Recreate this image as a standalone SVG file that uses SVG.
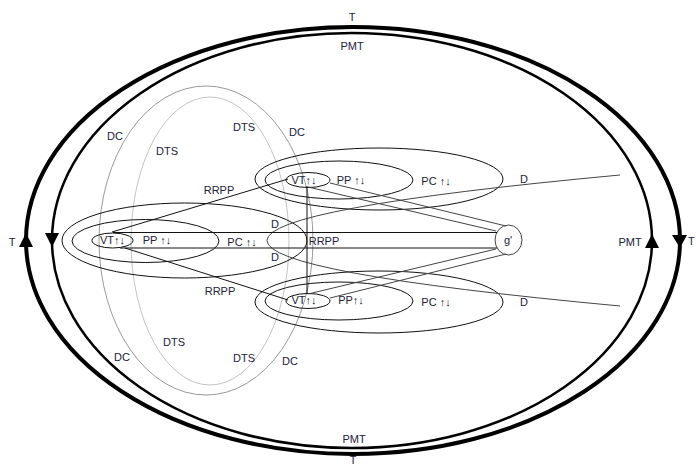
<svg xmlns="http://www.w3.org/2000/svg" width="696" height="467" viewBox="0 0 696 467">
<style>
text{font-family:"Liberation Sans",Arial,sans-serif;font-size:11px;fill:#222238;text-anchor:middle;dominant-baseline:central}
.e{fill:none;stroke:#111;stroke-width:1}
.g{fill:none;stroke:#444;stroke-width:1}
.dc{fill:none;stroke:#999;stroke-width:1}
.dts{fill:none;stroke:#c4c4c4;stroke-width:1}
.tri{fill:#000}
</style>
<rect width="696" height="467" fill="#fff"/>
<g id="T">
<ellipse cx="353" cy="240.5" rx="327" ry="213.5" fill="none" stroke="#000" stroke-width="4"/>
<polygon class="tri" points="26,233 19,247 33,247"/>
<polygon class="tri" points="672,235 687,235 680,248"/>
<text x="352" y="17">T</text><text x="353" y="460">T</text>
<text x="12" y="242">T</text><text x="688" y="241" style="text-anchor:start">T</text>
</g>
<g id="PMT">
<ellipse cx="352" cy="240.5" rx="300" ry="207.5" fill="none" stroke="#000" stroke-width="2.5"/>
<polygon class="tri" points="45,233 59,233 52,247"/>
<polygon class="tri" points="652,234 645,248 659,248"/>
<text x="352" y="46">PMT</text><text x="354" y="439">PMT</text><text x="630" y="242">PMT</text>
</g>
<g id="DC">
<ellipse class="dc" cx="206" cy="240.5" rx="107" ry="154.5"/>
<text x="115" y="136">DC</text><text x="297" y="132">DC</text><text x="122" y="357">DC</text><text x="290" y="361">DC</text>
</g>
<g id="DTS">
<ellipse class="dts" cx="210" cy="241" rx="79" ry="144"/>
<text x="167" y="151">DTS</text><text x="244" y="127">DTS</text><text x="174" y="342">DTS</text><text x="244" y="358">DTS</text>
</g>
<g id="left">
<ellipse class="e" cx="184.5" cy="240.5" rx="122.5" ry="37.5"/>
<ellipse class="e" cx="145.5" cy="241" rx="73.5" ry="21.5"/>
<ellipse class="e" cx="112.5" cy="240.5" rx="20.5" ry="7.5"/>
<text x="112.5" y="240">VT↑↓</text><text x="157" y="240">PP ↑↓</text><text x="242" y="242">PC ↑↓</text>
</g>
<g id="top">
<ellipse class="e" cx="379" cy="179" rx="124" ry="31"/>
<ellipse class="e" cx="339" cy="180" rx="74" ry="19"/>
<ellipse class="e" cx="308" cy="180" rx="22" ry="7.5"/>
<text x="304" y="180">VT↑↓</text><text x="351" y="180">PP ↑↓</text><text x="436" y="181">PC ↑↓</text>
</g>
<g id="bottom">
<ellipse class="e" cx="379" cy="302" rx="124" ry="31"/>
<ellipse class="e" cx="339" cy="301" rx="74" ry="19"/>
<ellipse class="e" cx="308" cy="301" rx="22" ry="7.5"/>
<text x="304" y="300">VT↑↓</text><text x="351" y="300">PP↑↓</text><text x="436" y="302">PC ↑↓</text>
</g>
<g id="gprime">
<ellipse class="g" cx="508.5" cy="240" rx="13.5" ry="15"/>
<text x="508" y="240">g'</text>
</g>
<g id="connectors">
<path class="g" d="M620,175 Q-86,240.5 620,306"/>
<line class="e" x1="112" y1="232" x2="288" y2="179"/>
<line class="e" x1="125" y1="248" x2="288" y2="300"/>
<line class="e" x1="113" y1="232.5" x2="497" y2="232.5"/>
<line class="e" x1="120" y1="248" x2="497" y2="248"/>
<line class="e" x1="307" y1="186" x2="307" y2="294"/>
<line class="g" x1="308" y1="187" x2="496" y2="231"/>
<line class="g" x1="330" y1="183" x2="506" y2="226"/>
<line class="g" x1="308" y1="294" x2="496" y2="249"/>
<line class="g" x1="330" y1="298" x2="506" y2="254"/>
<text x="219" y="190">RRPP</text><text x="220" y="291">RRPP</text><text x="324" y="241">RRPP</text>
<text x="275" y="224">D</text><text x="275" y="257">D</text><text x="524" y="179">D</text><text x="524" y="302">D</text>
</g>
</svg>
